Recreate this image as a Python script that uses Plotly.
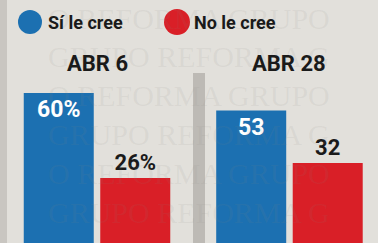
import plotly.graph_objects as go

# ---- data ----
fechas = ["ABR 6", "ABR 28"]
si_le_cree = [60, 53]
no_le_cree = [26, 32]
si_labels = ["60%", "53"]
no_labels = ["26%", "32"]
series_names = ["Sí le cree", "No le cree"]

BLUE = "#1c70b1"
RED = "#d91f27"
BG = "#e2e0db"
FONT = "Roboto"

W, H = 378, 243

# inside labels pushed a little below the bar top with a small empty first line
si_text = ["<br><span style='font-size:23px'>%s</span>" % t for t in si_labels]

fig = go.Figure()
fig.add_trace(go.Bar(
    x=fechas, y=si_le_cree, name=series_names[0], marker_color=BLUE,
    marker_line_width=0, text=si_text, textposition="inside",
    insidetextanchor="end", textangle=0,
    textfont=dict(family=FONT, size=9, color="white", weight="bold"),
    showlegend=False, cliponaxis=False,
))
fig.add_trace(go.Bar(
    x=fechas, y=no_le_cree, name=series_names[1], marker_color=RED,
    marker_line_width=0, text=no_labels, textposition="outside", textangle=0,
    textfont=dict(family=FONT, size=22, color="#1a1a1a", weight="bold"),
    showlegend=False, cliponaxis=False,
))

def px(x):
    return x / W

def py(y):
    return 1 - y / H

shapes = []
# decorative gray edges (left edge and divider between panels)
shapes.append(dict(type="rect", xref="paper", yref="paper", x0=0, x1=px(7),
                   y0=0, y1=1, fillcolor="#c9c6c1", line_width=0, layer="below"))
shapes.append(dict(type="rect", xref="paper", yref="paper", x0=px(193), x1=px(205),
                   y0=0, y1=py(73), fillcolor="#bdbab5", line_width=0, layer="below"))
# legend circles
shapes.append(dict(type="circle", xref="paper", yref="paper",
                   x0=px(18), x1=px(42), y0=py(34), y1=py(10),
                   fillcolor=BLUE, line_width=0))
shapes.append(dict(type="circle", xref="paper", yref="paper",
                   x0=px(164), x1=px(190), y0=py(35), y1=py(9),
                   fillcolor=RED, line_width=0))

annotations = []
# faint watermark rows (kept inside the picture)
wm_rows = [(18, "O REFORMA GRUPO"), (56, "GRUPO REFORMA G"),
           (95, "O REFORMA GRUPO"), (134, "GRUPO REFORMA G"),
           (173, "O REFORMA GRUPO"), (212, "GRUPO REFORMA G")]
for i, (yy, t) in enumerate(wm_rows):
    annotations.append(dict(text=t, xref="paper", yref="paper", x=0.5,
                            y=py(yy), xanchor="center", yanchor="middle", showarrow=False,
                            font=dict(family="Liberation Serif", size=30,
                                      color="rgba(140,135,128,0.10)")))
# legend texts
annotations.append(dict(text=series_names[0], xref="paper", yref="paper", x=px(46), y=py(22),
                        xanchor="left", yanchor="middle", showarrow=False,
                        font=dict(family=FONT, size=18, color="#1a1a1a", weight="bold")))
annotations.append(dict(text=series_names[1], xref="paper", yref="paper", x=px(192), y=py(22),
                        xanchor="left", yanchor="middle", showarrow=False,
                        font=dict(family=FONT, size=18, color="#1a1a1a", weight="bold")))
# date headers
for f in fechas:
    annotations.append(dict(text=f, xref="x", yref="paper", x=f, y=py(63),
                            xanchor="center", yanchor="middle", showarrow=False,
                            font=dict(family=FONT, size=22, color="#1a1a1a", weight="bold")))

fig.update_layout(
    width=W, height=H,
    margin=dict(l=0, r=0, t=0, b=0),
    paper_bgcolor=BG, plot_bgcolor="rgba(0,0,0,0)",
    barmode="group", bargap=0.205, bargroupgap=0.085,
    shapes=shapes, annotations=annotations,
    uniformtext=dict(mode=False),
)
fig.update_xaxes(range=[-0.504, 1.46], visible=False, fixedrange=True)
fig.update_yaxes(range=[0, 97.2], visible=False, fixedrange=True)

fig.write_html("out.html", config={"displayModeBar": False},
               post_script="document.body.style.margin='0';document.body.style.overflow='hidden';")
